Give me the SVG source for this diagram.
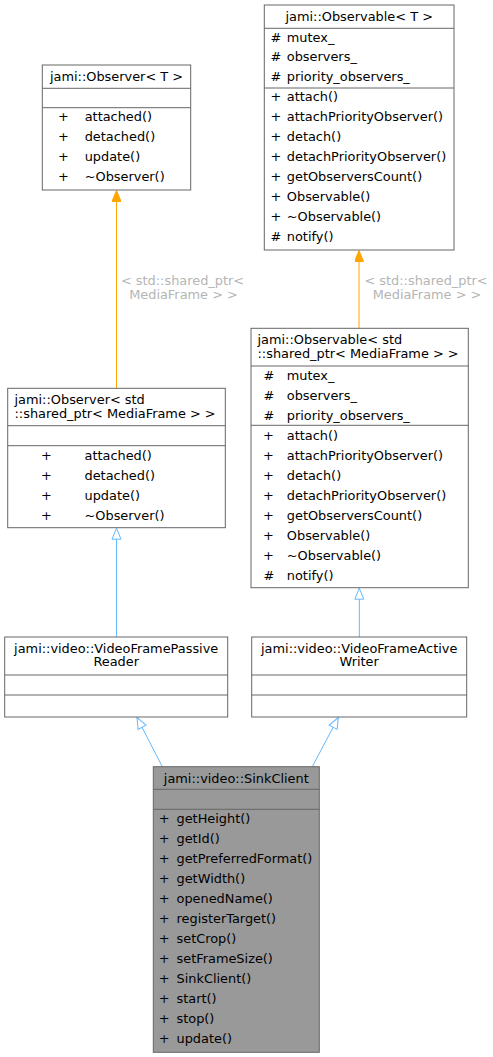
<svg xmlns="http://www.w3.org/2000/svg" width="493" height="1057" viewBox="0 0 493 1057">
<style>
text{font-family:"DejaVu Sans","Liberation Sans",sans-serif;font-size:12.9px;fill:#000}
.t{text-anchor:middle}
.s{text-anchor:middle}
.box{fill:#fff;stroke:#666;stroke-width:1}
.sink{fill:#999;stroke:#666;stroke-width:1}
.sep{stroke:#666;stroke-width:1}
.lbl{fill:#b5b5b5;text-anchor:middle}
.or{stroke:#ffa500;stroke-width:1;fill:none}
.bl{stroke:#63b8ff;stroke-width:1;fill:none}
</style>
<defs>
<marker id="ao" viewBox="0 0 11 9" refX="11" refY="4.5" markerWidth="11" markerHeight="9" markerUnits="userSpaceOnUse" orient="auto">
<path d="M0,0 L11,4.5 L0,9 Z" fill="#ffa500" stroke="#ffa500" stroke-width="1"/>
</marker>
<marker id="ab" viewBox="-1 -1 13 11" refX="11" refY="4.5" markerWidth="13" markerHeight="11" markerUnits="userSpaceOnUse" orient="auto">
<path d="M0,0 L11,4.5 L0,9 Z" fill="#fff" stroke="#63b8ff" stroke-width="1"/>
</marker>
</defs>

<g id="connectors">
<path class="or" d="M116.5,388.3 L116.5,190.5" marker-end="url(#ao)"/>
<text class="lbl" x="182.5" y="285">&lt; std::shared_ptr&lt;</text>
<text class="lbl" x="183.5" y="299">MediaFrame &gt; &gt;</text>
<path class="or" d="M359,328.3 L359,250.5" marker-end="url(#ao)"/>
<text class="lbl" x="426" y="285">&lt; std::shared_ptr&lt;</text>
<text class="lbl" x="427" y="299">MediaFrame &gt; &gt;</text>
<path class="bl" d="M116.5,637 L116.5,528.2" marker-end="url(#ab)"/>
<path class="bl" d="M359.3,637 L359.3,588.2" marker-end="url(#ab)"/>
<path class="bl" d="M162.3,766.7 L137,717.5" marker-end="url(#ab)"/>
<path class="bl" d="M312.3,766.7 L338.3,717.5" marker-end="url(#ab)"/>
</g>

<g id="observer_t">
<rect class="box" x="42.3" y="65" width="148.4" height="125"/>
<text class="t" x="116.5" y="81.2">jami::Observer&lt; T &gt;</text>
<line class="sep" x1="42.3" y1="88.3" x2="190.7" y2="88.3"/>
<line class="sep" x1="42.3" y1="107.7" x2="190.7" y2="107.7"/>
<text class="s" x="63.5" y="121.2">+</text><text x="84.7" y="121.2">attached()</text>
<text class="s" x="63.5" y="141.2">+</text><text x="84.7" y="141.2">detached()</text>
<text class="s" x="63.5" y="161.2">+</text><text x="84.7" y="161.2">update()</text>
<text class="s" x="63.5" y="181.2">+</text><text x="84.7" y="181.2">~Observer()</text>
</g>

<g id="observable_t">
<rect class="box" x="264.3" y="5" width="189.7" height="245"/>
<text class="t" x="359.2" y="21.2">jami::Observable&lt; T &gt;</text>
<line class="sep" x1="264.3" y1="28.3" x2="454" y2="28.3"/>
<text class="s" x="276" y="41.8">#</text><text x="286.8" y="41.8">mutex_</text>
<text class="s" x="276" y="61.2">#</text><text x="286.8" y="61.2">observers_</text>
<text class="s" x="276" y="81.2">#</text><text x="286.8" y="81.2">priority_observers_</text>
<line class="sep" x1="264.3" y1="88" x2="454" y2="88"/>
<text class="s" x="276" y="101.2">+</text><text x="286.8" y="101.2">attach()</text>
<text class="s" x="276" y="121.2">+</text><text x="286.8" y="121.2">attachPriorityObserver()</text>
<text class="s" x="276" y="141.2">+</text><text x="286.8" y="141.2">detach()</text>
<text class="s" x="276" y="161.2">+</text><text x="286.8" y="161.2">detachPriorityObserver()</text>
<text class="s" x="276" y="181.2">+</text><text x="286.8" y="181.2">getObserversCount()</text>
<text class="s" x="276" y="201.2">+</text><text x="286.8" y="201.2">Observable()</text>
<text class="s" x="276" y="221.2">+</text><text x="286.8" y="221.2">~Observable()</text>
<text class="s" x="276" y="241.2">#</text><text x="286.8" y="241.2">notify()</text>
</g>

<g id="observer_std">
<rect class="box" x="7.7" y="388.3" width="217.6" height="139.4"/>
<text x="14.5" y="404">jami::Observer&lt; std</text>
<text x="14.5" y="417.7">::shared_ptr&lt; MediaFrame &gt; &gt;</text>
<line class="sep" x1="7.7" y1="425.7" x2="225.3" y2="425.7"/>
<line class="sep" x1="7.7" y1="445.7" x2="225.3" y2="445.7"/>
<text class="s" x="46.3" y="459.5">+</text><text x="84.5" y="459.5">attached()</text>
<text class="s" x="46.3" y="479.5">+</text><text x="84.5" y="479.5">detached()</text>
<text class="s" x="46.3" y="499.5">+</text><text x="84.5" y="499.5">update()</text>
<text class="s" x="46.3" y="519.5">+</text><text x="84.5" y="519.5">~Observer()</text>
</g>

<g id="observable_std">
<rect class="box" x="251" y="328.3" width="217.3" height="259.4"/>
<text x="257.5" y="344">jami::Observable&lt; std</text>
<text x="257.5" y="357.7">::shared_ptr&lt; MediaFrame &gt; &gt;</text>
<line class="sep" x1="251" y1="366" x2="468.3" y2="366"/>
<text class="s" x="269" y="379.5">#</text><text x="286.8" y="379.5">mutex_</text>
<text class="s" x="269" y="399.5">#</text><text x="286.8" y="399.5">observers_</text>
<text class="s" x="269" y="419.5">#</text><text x="286.8" y="419.5">priority_observers_</text>
<line class="sep" x1="251" y1="425.3" x2="468.3" y2="425.3"/>
<text class="s" x="268.5" y="439.5">+</text><text x="286.8" y="439.5">attach()</text>
<text class="s" x="268.5" y="459.5">+</text><text x="286.8" y="459.5">attachPriorityObserver()</text>
<text class="s" x="268.5" y="479.5">+</text><text x="286.8" y="479.5">detach()</text>
<text class="s" x="268.5" y="499.5">+</text><text x="286.8" y="499.5">detachPriorityObserver()</text>
<text class="s" x="268.5" y="519.5">+</text><text x="286.8" y="519.5">getObserversCount()</text>
<text class="s" x="268.5" y="539.5">+</text><text x="286.8" y="539.5">Observable()</text>
<text class="s" x="268.5" y="559.5">+</text><text x="286.8" y="559.5">~Observable()</text>
<text class="s" x="269" y="579.5">#</text><text x="286.8" y="579.5">notify()</text>
</g>

<g id="passive_reader">
<rect class="box" x="4.7" y="637" width="223" height="80"/>
<text class="t" x="116.2" y="652.7">jami::video::VideoFramePassive</text>
<text class="t" x="116.2" y="666.4">Reader</text>
<line class="sep" x1="4.7" y1="675" x2="227.7" y2="675"/>
<line class="sep" x1="4.7" y1="695" x2="227.7" y2="695"/>
</g>

<g id="active_writer">
<rect class="box" x="251.7" y="637" width="215" height="80"/>
<text class="t" x="359.2" y="652.7">jami::video::VideoFrameActive</text>
<text class="t" x="359.2" y="666.4">Writer</text>
<line class="sep" x1="251.7" y1="675" x2="466.7" y2="675"/>
<line class="sep" x1="251.7" y1="695" x2="466.7" y2="695"/>
</g>

<g id="sink_client">
<rect class="sink" x="153.3" y="766.7" width="166" height="285.6"/>
<text class="t" x="236.3" y="782.8">jami::video::SinkClient</text>
<line class="sep" x1="153.3" y1="789.3" x2="319.3" y2="789.3"/>
<line class="sep" x1="153.3" y1="809.3" x2="319.3" y2="809.3"/>
<text class="s" x="164.2" y="822.8">+</text><text x="176.5" y="822.8">getHeight()</text>
<text class="s" x="164.2" y="842.8">+</text><text x="176.5" y="842.8">getId()</text>
<text class="s" x="164.2" y="862.8">+</text><text x="176.5" y="862.8">getPreferredFormat()</text>
<text class="s" x="164.2" y="882.8">+</text><text x="176.5" y="882.8">getWidth()</text>
<text class="s" x="164.2" y="902.8">+</text><text x="176.5" y="902.8">openedName()</text>
<text class="s" x="164.2" y="922.8">+</text><text x="176.5" y="922.8">registerTarget()</text>
<text class="s" x="164.2" y="942.8">+</text><text x="176.5" y="942.8">setCrop()</text>
<text class="s" x="164.2" y="962.8">+</text><text x="176.5" y="962.8">setFrameSize()</text>
<text class="s" x="164.2" y="982.8">+</text><text x="176.5" y="982.8">SinkClient()</text>
<text class="s" x="164.2" y="1002.8">+</text><text x="176.5" y="1002.8">start()</text>
<text class="s" x="164.2" y="1022.8">+</text><text x="176.5" y="1022.8">stop()</text>
<text class="s" x="164.2" y="1042.8">+</text><text x="176.5" y="1042.8">update()</text>
</g>
</svg>
